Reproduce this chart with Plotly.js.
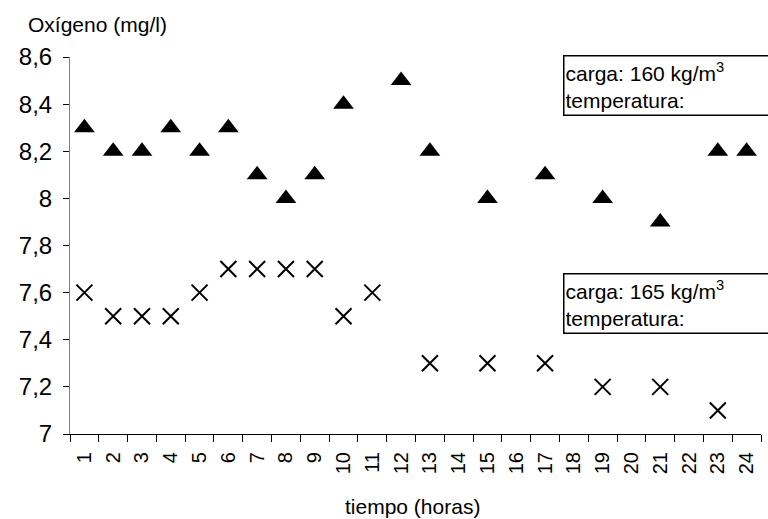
<!DOCTYPE html>
<html>
<head>
<meta charset="utf-8">
<script src="https://cdn.plot.ly/plotly-3.0.1.min.js"></script>
<style>html,body{margin:0;padding:0;background:#fff;}#chart{width:768px;height:519px;}</style>
</head>
<body>
<div id="chart"></div>
<script>
const horas = ["1","2","3","4","5","6","7","8","9","10","11","12","13","14","15","16","17","18","19","20","21","22","23","24"];
const carga160 = [8.3,8.2,8.2,8.3,8.2,8.3,8.1,8.0,8.1,8.4,null,8.5,8.2,null,8.0,null,8.1,null,8.0,null,7.9,null,8.2,8.2];
const carga165 = [7.6,7.5,7.5,7.5,7.6,7.7,7.7,7.7,7.7,7.5,7.6,null,7.3,null,7.3,null,7.3,null,7.2,null,7.2,null,7.1,null];
const yTicks = [7,7.2,7.4,7.6,7.8,8,8.2,8.4,8.6];
const yTickText = ["7","7,2","7,4","7,6","7,8","8","8,2","8,4","8,6"];
const FONT = "Liberation Sans, Arial, sans-serif";

const traces = [
  {x: horas, y: carga160, type: "scatter", mode: "markers", name: "160",
   marker: {symbol: "triangle-up", size: 18, color: "#000"}},
  {x: horas, y: carga165, type: "scatter", mode: "markers", name: "165",
   marker: {symbol: "x-thin-open", size: 16, color: "#000", line: {color: "#000", width: 2}}}
];

const layout = {
  width: 768, height: 519,
  margin: {l: 70, r: 7, t: 57, b: 85},
  paper_bgcolor: "#fff", plot_bgcolor: "#fff",
  showlegend: false,
  font: {family: FONT, color: "#000"},
  separators: ",.",
  xaxis: {
    type: "category", categoryorder: "array", categoryarray: horas,
    range: [-0.5, 23.5],
    showgrid: false, zeroline: false,
    showline: true, linecolor: "#000", linewidth: 1,
    ticks: "outside", tickson: "boundaries", ticklen: 7, tickcolor: "#000",
    tickangle: -90, tickfont: {family: FONT, size: 20, color: "#000"},
    ticklabelstandoff: 9
  },
  yaxis: {
    range: [7, 8.6],
    tickvals: yTicks, ticktext: yTickText,
    showgrid: false, zeroline: false,
    showline: true, linecolor: "#808080", linewidth: 1,
    ticks: "outside", ticklen: 6, tickcolor: "#000",
    tickfont: {family: FONT, size: 24, color: "#000"},
    ticklabelstandoff: 6
  },
  annotations: [
    {xref: "paper", yref: "paper", x: -0.064, y: 1.085, xanchor: "left", yanchor: "middle",
     text: "Oxígeno (mg/l)", showarrow: false, font: {family: FONT, size: 21, color: "#000"}},
    {xref: "paper", yref: "paper", x: 0.495, y: -0.193, xanchor: "center", yanchor: "middle",
     text: "tiempo (horas)", showarrow: false, font: {family: FONT, size: 21, color: "#000"}},
    {xref: "paper", yref: "paper", x: 0.7135, y: 1.006, xanchor: "left", yanchor: "top",
     text: "carga: 160 kg/m<sup>3</sup><br>temperatura:", align: "left", showarrow: false,
     width: 210, height: 56, bordercolor: "#000", borderwidth: 1.5, borderpad: 1, bgcolor: "#fff",
     font: {family: FONT, size: 21, color: "#000"}},
    {xref: "paper", yref: "paper", x: 0.7135, y: 0.427, xanchor: "left", yanchor: "top",
     text: "carga: 165 kg/m<sup>3</sup><br>temperatura:", align: "left", showarrow: false,
     width: 210, height: 56, bordercolor: "#000", borderwidth: 1.5, borderpad: 1, bgcolor: "#fff",
     font: {family: FONT, size: 21, color: "#000"}}
  ]
};

Plotly.newPlot("chart", traces, layout, {displayModeBar: false, staticPlot: true});
</script>
</body>
</html>
